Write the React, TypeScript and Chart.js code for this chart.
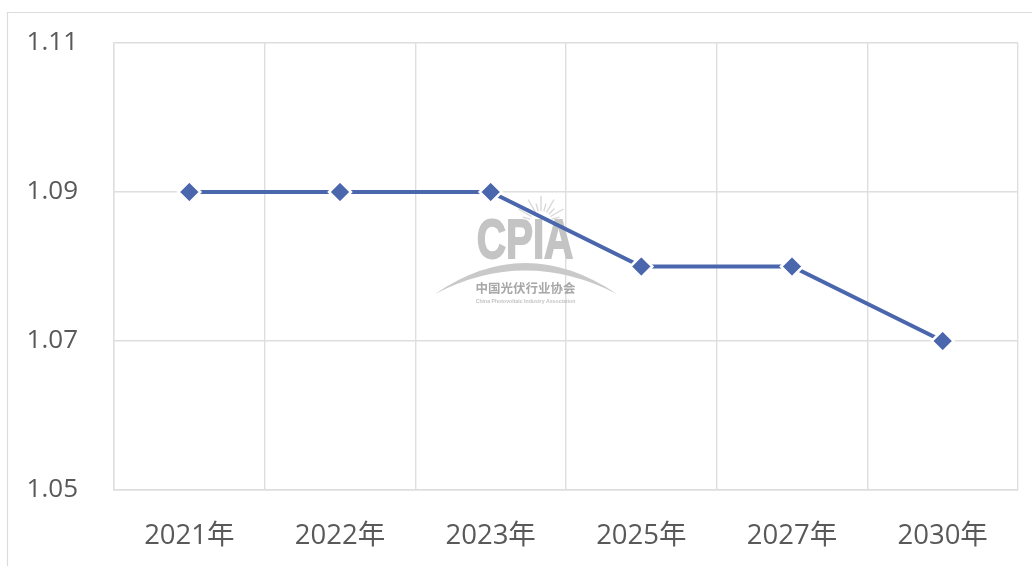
import React, { useEffect, useRef } from "react";
import { Chart, registerables } from "chart.js";

Chart.register(...registerables);

const categories = ["2021年", "2022年", "2023年", "2025年", "2027年", "2030年"];
const seriesValues = [1.09, 1.09, 1.09, 1.08, 1.08, 1.07];
const yTicks = [1.05, 1.07, 1.09, 1.11];
const logoTitle = "CPIA";
const logoCn = "中国光伏行业协会";
const logoEn = "China Photovoltaic Industry Association";

const FONT = '"Open Sans", "Noto Sans CJK SC", sans-serif';
const CJK = '"Noto Sans CJK SC", sans-serif';

const framePlugin = {
  id: "frame",
  beforeDraw(chart: any) {
    const { ctx, width, height } = chart;
    ctx.save();
    ctx.fillStyle = "#ffffff";
    ctx.fillRect(0, 0, width, height);
    ctx.strokeStyle = "#dcdcdc";
    ctx.lineWidth = 1.2;
    ctx.beginPath();
    ctx.moveTo(7.5, height);
    ctx.lineTo(7.5, 12.5);
    ctx.lineTo(width - 1, 12.5);
    ctx.stroke();
    ctx.restore();
  },
};

const watermarkPlugin = {
  id: "watermark",
  beforeDatasetsDraw(chart: any) {
    const { ctx } = chart;
    ctx.save();
    // sun rays
    const sx = 541;
    const sy = 222;
    ctx.strokeStyle = "#d8d8d8";
    ctx.lineWidth = 1.4;
    for (let a = -165; a <= -15; a += 15) {
      const r = (a * Math.PI) / 180;
      const outer = a % 30 === 0 ? 26 : 19;
      ctx.beginPath();
      ctx.moveTo(sx + Math.cos(r) * 11, sy + Math.sin(r) * 11);
      ctx.lineTo(sx + Math.cos(r) * outer, sy + Math.sin(r) * outer);
      ctx.stroke();
    }
    // title
    ctx.fillStyle = "#c4c4c4";
    ctx.strokeStyle = "#c4c4c4";
    ctx.lineWidth = 1.5;
    ctx.textAlign = "center";
    ctx.textBaseline = "alphabetic";
    ctx.font = 'bold 46px "Liberation Sans", sans-serif';
    ctx.save();
    ctx.translate(525, 258);
    ctx.scale(0.88, 1.2);
    ctx.fillText(logoTitle, 0, 0);
    ctx.strokeText(logoTitle, 0, 0);
    ctx.restore();
    // swoosh
    ctx.fillStyle = "#c9c9c9";
    ctx.beginPath();
    ctx.moveTo(435, 294);
    ctx.quadraticCurveTo(525, 232, 617, 294);
    ctx.quadraticCurveTo(525, 247, 435, 294);
    ctx.fill();
    // Chinese name
    ctx.fillStyle = "#a8a8a8";
    ctx.font = `bold 12.5px ${CJK}`;
    ctx.fillText(logoCn, 525.5, 293);
    ctx.fillStyle = "#c4c4c4";
    ctx.font = `bold 5.2px "Liberation Sans", sans-serif`;
    ctx.fillText(logoEn, 525.5, 303);
    ctx.restore();
  },
};

export default function App() {
  const ref = useRef<HTMLCanvasElement | null>(null);

  useEffect(() => {
    const chart = new Chart(ref.current as HTMLCanvasElement, {
      type: "line",
      data: {
        labels: categories,
        datasets: [
          {
            data: seriesValues,
            borderColor: "#4a66ac",
            borderWidth: 4,
            pointStyle: "rectRot",
            pointRadius: 11,
            pointBackgroundColor: "#4a66ac",
            pointBorderColor: "#ffffff",
            pointBorderWidth: 2.5,
            tension: 0,
            fill: false,
          },
        ],
      },
      options: {
        responsive: false,
        animation: false,
        layout: { padding: { top: 43, right: 15, left: 0, bottom: 0 } },
        plugins: { legend: { display: false }, tooltip: { enabled: false } },
        scales: {
          x: {
            type: "category",
            offset: true,
            afterFit: (s: any) => {
              s.height = 76;
              s.paddingLeft = 0;
              s.paddingRight = 0;
            },
            grid: { color: "#dedede", lineWidth: 1.4, drawTicks: false, offset: true },
            border: { color: "#dedede", width: 1.4 },
            ticks: {
              color: "#595959",
              font: { family: FONT, size: 27.5 },
              padding: 30,
              maxRotation: 0,
              autoSkip: false,
            },
          },
          y: {
            min: yTicks[0],
            max: yTicks[yTicks.length - 1],
            afterFit: (s: any) => {
              s.width = 114;
              s.paddingTop = 0;
              s.paddingBottom = 0;
            },
            afterBuildTicks: (s: any) => {
              s.ticks = yTicks.map((value) => ({ value }));
            },
            grid: { color: "#dedede", lineWidth: 1.4, drawTicks: false },
            border: { color: "#dedede", width: 1.4 },
            ticks: {
              color: "#595959",
              font: { family: FONT, size: 26 },
              padding: 36,
              callback: (v: any) => Number(v).toFixed(2),
            },
          },
        },
      },
      plugins: [framePlugin, watermarkPlugin],
    } as any);
    return () => chart.destroy();
  }, []);

  return (
    <div style={{ position: "fixed", left: 0, top: 0, width: 1033, height: 566 }}>
      <canvas ref={ref} width={1033} height={566} style={{ display: "block" }} />
    </div>
  );
}
